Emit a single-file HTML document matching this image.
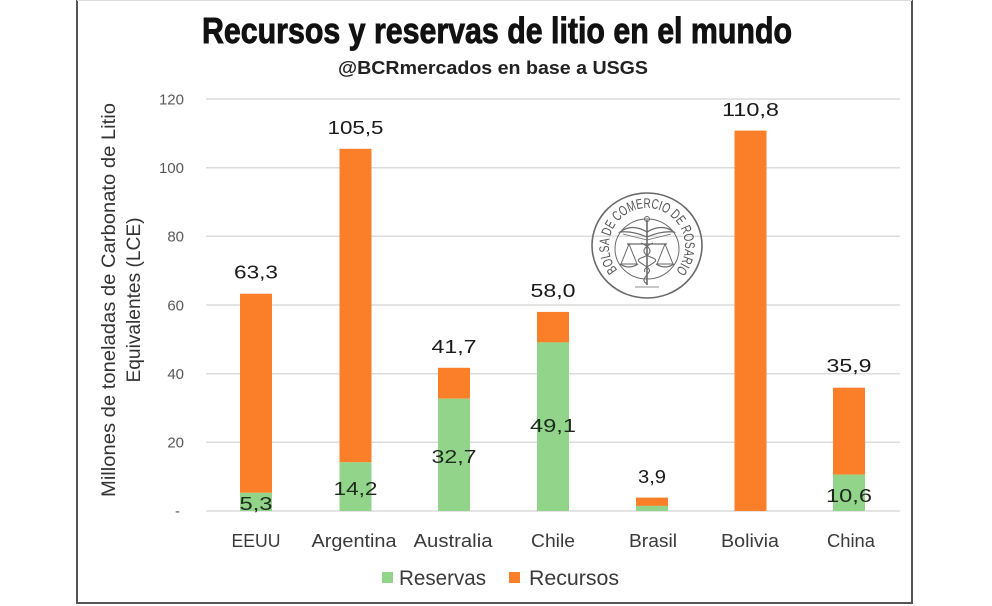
<!DOCTYPE html>
<html>
<head>
<meta charset="utf-8">
<style>
html,body{margin:0;padding:0;background:#fff;}
svg{display:block;}
text{font-family:"Liberation Sans",sans-serif;}
</style>
</head>
<body>
<svg width="992" height="606" viewBox="0 0 992 606" xmlns="http://www.w3.org/2000/svg">
<rect x="0" y="0" width="992" height="606" fill="#fff"/>
<!-- frame -->
<line x1="77" y1="0" x2="77" y2="604" stroke="#555" stroke-width="2"/>
<line x1="912" y1="0" x2="912" y2="604" stroke="#555" stroke-width="2"/>
<line x1="76" y1="603" x2="913" y2="603" stroke="#555" stroke-width="2"/>
<line x1="77" y1="0.5" x2="912" y2="0.5" stroke="#ddd" stroke-width="1"/>

<!-- titles -->
<text x="202" y="43" font-size="36" font-weight="bold" fill="#111" stroke="#111" stroke-width="0.9" textLength="590" lengthAdjust="spacingAndGlyphs">Recursos y reservas de litio en el mundo</text>
<text x="338" y="74" font-size="18" font-weight="bold" fill="#222" textLength="310" lengthAdjust="spacingAndGlyphs">@BCRmercados en base a USGS</text>

<!-- gridlines -->
<g stroke="#dcdcdc" stroke-width="1.5">
<line x1="206" y1="99" x2="900" y2="99"/>
<line x1="206" y1="167.7" x2="900" y2="167.7"/>
<line x1="206" y1="236.3" x2="900" y2="236.3"/>
<line x1="206" y1="305" x2="900" y2="305"/>
<line x1="206" y1="373.7" x2="900" y2="373.7"/>
<line x1="206" y1="442.3" x2="900" y2="442.3"/>
<line x1="206" y1="511" x2="900" y2="511"/>
</g>

<!-- y tick labels -->
<g font-size="15" fill="#595959" text-anchor="end">
<text x="184" y="104.5">120</text>
<text x="184" y="173">100</text>
<text x="184" y="241.5">80</text>
<text x="184" y="310.5">60</text>
<text x="184" y="379">40</text>
<text x="184" y="447.5">20</text>
<text x="180" y="516">-</text>
</g>

<!-- y axis title -->
<text transform="translate(115,300) rotate(-90)" text-anchor="middle" font-size="19" fill="#333" textLength="394" lengthAdjust="spacingAndGlyphs">Millones de toneladas de Carbonato de Litio</text>
<text transform="translate(140,300) rotate(-90)" text-anchor="middle" font-size="19" fill="#333" textLength="165" lengthAdjust="spacingAndGlyphs">Equivalentes (LCE)</text>

<!-- logo -->
<g stroke="#6a6a6a" fill="none">
<ellipse cx="647" cy="245.5" rx="55" ry="52.5" stroke-width="1.6"/>
<ellipse cx="647" cy="249" rx="32" ry="30" stroke-width="1"/>
<line x1="647" y1="220" x2="647" y2="285" stroke-width="1.6"/>
<circle cx="647" cy="219" r="2.5" stroke-width="1"/>
<path d="M647,232 C637,226 628,226 620,232 C630,231 638,233 647,237" stroke-width="1.2"/>
<path d="M647,232 C657,226 666,226 674,232 C664,231 656,233 647,237" stroke-width="1.2"/>
<path d="M623,234 C631,236 639,238 647,240 M671,234 C663,236 655,238 647,240" stroke-width="0.8"/>
<line x1="627" y1="244" x2="667" y2="244" stroke-width="1.2"/>
<path d="M629,244 L621,264 L637,264 Z M665,244 L657,264 L673,264 Z" stroke-width="1"/>
<path d="M620,264 Q629,270 638,264 M656,264 Q665,270 674,264" stroke-width="1.2"/>
<path d="M641,243 C653,248 653,254 641,258 C631,262 653,266 649,272 C645,278 641,280 647,284" stroke-width="1.1"/>
<path d="M653,243 C641,248 641,254 653,258 C663,262 641,266 645,272" stroke-width="1.1"/>
<line x1="635" y1="287" x2="659" y2="287" stroke-width="0.8"/>
</g>
<path id="arc" d="M617.5,270 A38,38 0 1 1 676.5,270" fill="none"/>
<text font-size="14" fill="#555"><textPath href="#arc" textLength="172" lengthAdjust="spacingAndGlyphs">BOLSA DE COMERCIO DE ROSARIO</textPath></text>

<!-- bars -->
<g>
<rect x="240" y="293.7" width="32" height="199.1" fill="#FA7F28"/>
<rect x="240" y="492.8" width="32" height="18.2" fill="#93D48B"/>
<rect x="339.5" y="148.8" width="32" height="313.5" fill="#FA7F28"/>
<rect x="339.5" y="462.3" width="32" height="48.7" fill="#93D48B"/>
<rect x="438" y="367.8" width="32" height="30.9" fill="#FA7F28"/>
<rect x="438" y="398.7" width="32" height="112.3" fill="#93D48B"/>
<rect x="537" y="311.9" width="32" height="30.5" fill="#FA7F28"/>
<rect x="537" y="342.4" width="32" height="168.6" fill="#93D48B"/>
<rect x="636" y="497.6" width="32" height="8.3" fill="#FA7F28"/>
<rect x="636" y="505.9" width="32" height="5.1" fill="#93D48B"/>
<rect x="734.5" y="130.6" width="32" height="380.4" fill="#FA7F28"/>
<rect x="833" y="387.7" width="32" height="86.9" fill="#FA7F28"/>
<rect x="833" y="474.6" width="32" height="36.4" fill="#93D48B"/>
</g>

<!-- total labels -->
<g font-size="18.5" fill="#1a1a1a" text-anchor="middle">
<text x="256" y="278.5" textLength="44" lengthAdjust="spacingAndGlyphs">63,3</text>
<text x="355.5" y="134" textLength="56" lengthAdjust="spacingAndGlyphs">105,5</text>
<text x="454" y="353" textLength="45" lengthAdjust="spacingAndGlyphs">41,7</text>
<text x="553" y="297" textLength="45" lengthAdjust="spacingAndGlyphs">58,0</text>
<text x="652" y="483" textLength="28" lengthAdjust="spacingAndGlyphs">3,9</text>
<text x="750.5" y="116" textLength="57" lengthAdjust="spacingAndGlyphs">110,8</text>
<text x="849" y="372" textLength="45" lengthAdjust="spacingAndGlyphs">35,9</text>
</g>

<!-- inner labels -->
<g font-size="18.5" fill="#1c2b1c" text-anchor="middle">
<text x="256" y="510" textLength="33" lengthAdjust="spacingAndGlyphs">5,3</text>
<text x="355.5" y="495" textLength="44" lengthAdjust="spacingAndGlyphs">14,2</text>
<text x="454" y="463" textLength="45" lengthAdjust="spacingAndGlyphs">32,7</text>
<text x="553" y="432" textLength="46" lengthAdjust="spacingAndGlyphs">49,1</text>
<text x="849" y="502" textLength="46" lengthAdjust="spacingAndGlyphs">10,6</text>
</g>

<!-- x labels -->
<g font-size="18.5" fill="#3a3a3a" text-anchor="middle">
<text x="256" y="547" textLength="49" lengthAdjust="spacingAndGlyphs">EEUU</text>
<text x="354" y="547" textLength="85" lengthAdjust="spacingAndGlyphs">Argentina</text>
<text x="453" y="547" textLength="79" lengthAdjust="spacingAndGlyphs">Australia</text>
<text x="553" y="547" textLength="44" lengthAdjust="spacingAndGlyphs">Chile</text>
<text x="653" y="547" textLength="48" lengthAdjust="spacingAndGlyphs">Brasil</text>
<text x="750" y="547" textLength="58" lengthAdjust="spacingAndGlyphs">Bolivia</text>
<text x="851" y="547" textLength="48" lengthAdjust="spacingAndGlyphs">China</text>
</g>

<!-- legend -->
<rect x="382" y="572" width="11" height="11" fill="#93D48B"/>
<text x="399" y="585" font-size="21" fill="#3a3a3a" textLength="87" lengthAdjust="spacingAndGlyphs">Reservas</text>
<rect x="509" y="572" width="11" height="11" fill="#FA7F28"/>
<text x="529" y="585" font-size="21" fill="#3a3a3a" textLength="90" lengthAdjust="spacingAndGlyphs">Recursos</text>
</svg>
</body>
</html>
